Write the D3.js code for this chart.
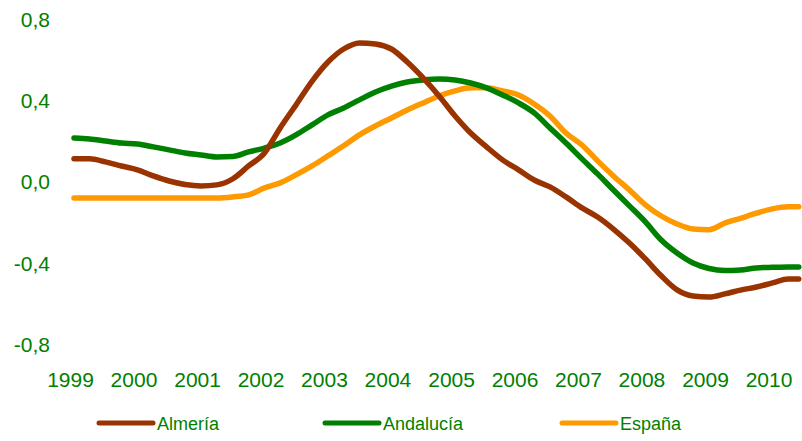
<html>
<head>
<meta charset="utf-8">
<style>
body { margin: 0; background: #ffffff; }
svg text { font-family: "Liberation Sans", Arial, sans-serif; fill: #008000; }
</style>
</head>
<body>
<div id="plot"></div>
<script src="https://d3js.org/d3.v7.min.js"></script>
<script type="text/javascript">
// quarterly readings of the three series
var months = ["1999-01","1999-04","1999-07","1999-10","2000-01","2000-04","2000-07","2000-10",
  "2001-01","2001-04","2001-07","2001-10","2002-01","2002-04","2002-07","2002-10",
  "2003-01","2003-04","2003-07","2003-10","2004-01","2004-04","2004-07","2004-10",
  "2005-01","2005-04","2005-07","2005-10","2006-01","2006-04","2006-07","2006-10",
  "2007-01","2007-04","2007-07","2007-10","2008-01","2008-04","2008-07","2008-10",
  "2009-01","2009-04","2009-07","2009-10","2010-01","2010-04","2010-06"];

var almeria = [0.115,0.115,0.100,0.080,0.061,0.031,0.006,-0.011,-0.018,
  -0.013,0.016,0.080,0.144, 0.267,0.380,0.496,0.591, 0.655,0.685,0.680,0.655,
  0.591,0.513,0.424,0.326, 0.242,0.174,0.110,0.061, 0.011,-0.023,-0.072,-0.126,
  -0.171,-0.230,-0.299,-0.377, -0.460,-0.529,-0.559,-0.564, -0.549,-0.530,-0.515,-0.495,
  -0.476,-0.476];

var andalucia = [0.218,0.213,0.203,0.193,0.188,0.174,0.159,0.144,0.134,
  0.124,0.126,0.149,0.168, 0.193,0.233,0.282,0.331, 0.365,0.405,0.444,0.473,
  0.493,0.503,0.508,0.503, 0.488,0.464,0.429,0.390, 0.341,0.267,0.193,0.115,
  0.041,-0.038,-0.116,-0.195, -0.284,-0.348,-0.397,-0.424, -0.434,-0.431,-0.421,-0.418,
  -0.416,-0.416];

var espana = [-0.077,-0.077,-0.077,-0.077,-0.077,-0.077,-0.077,-0.077,-0.077,
  -0.077,-0.072,-0.062,-0.028, -0.003,0.036,0.080,0.130, 0.179,0.233,0.277,0.316,
  0.355,0.390,0.424,0.449, 0.464,0.464,0.449,0.429, 0.385,0.326,0.242,0.183,
  0.105,0.031,-0.038,-0.111, -0.166,-0.205,-0.230,-0.233, -0.201,-0.177,-0.152,-0.131,
  -0.121,-0.121];

var seriesNames = ["Almería", "Andalucía", "España"];
var seriesColors = ["#993300", "#008000", "#ff9900"];
var yTicks = [0.8, 0.4, 0, -0.4, -0.8];

var width = 802, height = 441;
var parse = d3.timeParse("%Y-%m");
var dates = months.map(parse);

var svg = d3.select("#plot").append("svg")
  .attr("width", width)
  .attr("height", height);

var x = d3.scaleTime()
  .domain([new Date(1999, 0, 1), new Date(2010, 0, 1)])
  .range([74, 772.5]);

var y = d3.scaleLinear()
  .domain([-0.8, 0.8])
  .range([345, 19.5]);

var es = d3.formatLocale({decimal: ",", thousands: ".", grouping: [3], currency: ["", "€"], minus: "-"});

// y axis labels only
var yAxis = svg.append("g")
  .attr("transform", "translate(50,0)")
  .call(d3.axisLeft(y).tickValues(yTicks).tickSize(0).tickPadding(0).tickFormat(es.format(".1f")));
yAxis.select(".domain").remove();
yAxis.selectAll("text").style("font-size", "21px").attr("fill", "#008000");

// x axis labels
var xAxis = svg.append("g")
  .attr("transform", "translate(0,372)")
  .call(d3.axisBottom(x).ticks(d3.timeYear.every(1)).tickSize(0).tickPadding(0).tickFormat(d3.timeFormat("%Y")));
xAxis.select(".domain").remove();
xAxis.selectAll("text").style("font-size", "21px").attr("fill", "#008000").attr("dx", -4);

var line = d3.line()
  .x(function(d) { return x(d.date); })
  .y(function(d) { return y(d.v); })
  .curve(d3.curveMonotoneX);

var allSeries = [almeria, andalucia, espana];
// draw order: Almería under, España on top
[2, 1, 0].forEach(function(i) {
  var pts = dates.map(function(d, j) { return {date: d, v: allSeries[i][j]}; });
  svg.append("path")
    .datum(pts)
    .attr("fill", "none")
    .attr("stroke", seriesColors[i])
    .attr("stroke-width", 5.5)
    .attr("stroke-linecap", "round")
    .attr("stroke-linejoin", "round")
    .attr("d", line);
});

// legend
var legendX = [97, 323, 560];
var legend = svg.append("g");
seriesNames.forEach(function(name, i) {
  legend.append("line")
    .attr("x1", legendX[i] + 2).attr("x2", legendX[i] + 56)
    .attr("y1", 423).attr("y2", 423)
    .attr("stroke", seriesColors[i])
    .attr("stroke-width", 5)
    .attr("stroke-linecap", "round");
  legend.append("text")
    .attr("x", legendX[i] + 60)
    .attr("y", 430)
    .style("font-size", "18px")
    .text(name);
});
</script>
</body>
</html>
